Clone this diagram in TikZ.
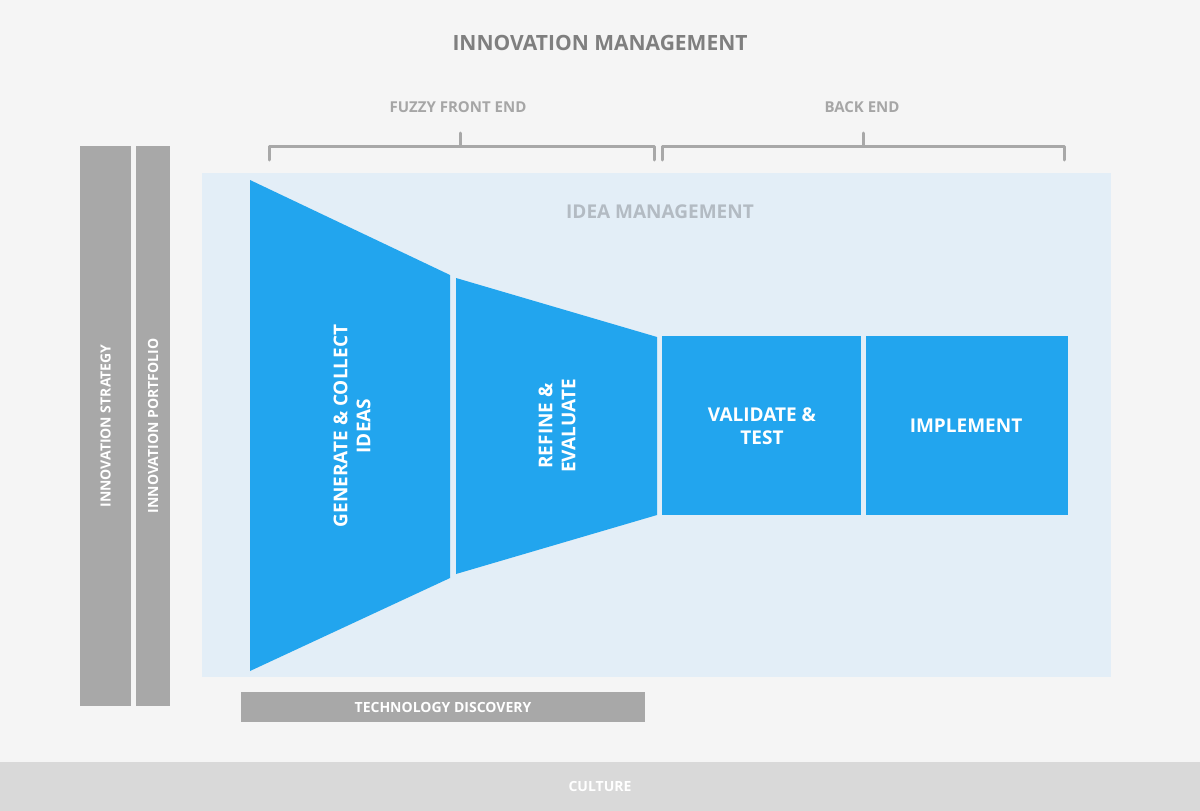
\documentclass[tikz,border=0pt]{standalone}
\usepackage{fontspec}
\setmainfont{Open Sans}
\definecolor{bg}{HTML}{F5F5F5}
\definecolor{culture}{HTML}{D9D9D9}
\definecolor{bar}{HTML}{A8A8A8}
\definecolor{lblue}{HTML}{E3EEF7}
\definecolor{fblue}{HTML}{22A5EE}
\definecolor{title}{HTML}{7F7F7F}
\definecolor{sub}{HTML}{A6A6A6}
\definecolor{idea}{HTML}{B3BBC3}
\begin{document}
\begin{tikzpicture}[x=1pt,y=-1pt,
  wtxt/.style={text=white,font=\bfseries\fontsize{14}{17}\selectfont,align=center},
  btxt/.style={text=white,font=\bfseries\fontsize{19}{23}\selectfont,align=center},
  brk/.style={draw=bar,line width=3pt,line cap=round,line join=round}]
\fill[bg] (0,0) rectangle (1200,811);
\useasboundingbox (0,0) rectangle (1200,811);
\fill[culture] (0,762) rectangle (1200,811);
\node[wtxt] (cul) at (600,786) {CULTURE};
\node[text=title,font=\bfseries\fontsize{21}{25}\selectfont] (tit) at (600,43) {INNOVATION MANAGEMENT};
\node[text=sub,font=\bfseries\fontsize{15}{18}\selectfont] (ffe) at (458,107) {FUZZY FRONT END};
\node[text=sub,font=\bfseries\fontsize{15}{18}\selectfont] (be) at (862,107) {BACK END};
\draw[brk] (269,160) -- (269,146) -- (460,146) -- (460,133);
\draw[brk] (460,146) -- (654,146) -- (654,160);
\draw[brk] (662,160) -- (662,146) -- (863,146) -- (863,133);
\draw[brk] (863,146) -- (1064,146) -- (1064,160);
\fill[lblue] (202,173) rectangle (1111,677);
\node[text=idea,font=\bfseries\fontsize{19}{23}\selectfont] (im) at (660,212) {IDEA MANAGEMENT};
\fill[bar] (80,146) rectangle (131,706);
\fill[bar] (136,146) rectangle (170,706);
\node[wtxt,rotate=90] (is) at (105.5,426) {INNOVATION STRATEGY};
\node[wtxt,rotate=90] (ip) at (153,426) {INNOVATION PORTFOLIO};
\fill[bar] (241,692) rectangle (645,722);
\node[wtxt] (td) at (443,707) {TECHNOLOGY DISCOVERY};
\fill[fblue] (250,180) -- (450,275) -- (450,578) -- (250,671) -- cycle;
\fill[fblue] (456,278) -- (657,337) -- (657,515) -- (456,574) -- cycle;
\fill[fblue] (662,336) rectangle (861,515);
\fill[fblue] (866,336) rectangle (1068,515);
\node[btxt,rotate=90] (g) at (352,426) {GENERATE \& COLLECT\\IDEAS};
\node[btxt,rotate=90] (r) at (557,426) {REFINE \&\\EVALUATE};
\node[btxt] (v) at (762,426) {VALIDATE \&\\TEST};
\node[btxt] (i) at (966,426) {IMPLEMENT};
\end{tikzpicture}
\end{document}
